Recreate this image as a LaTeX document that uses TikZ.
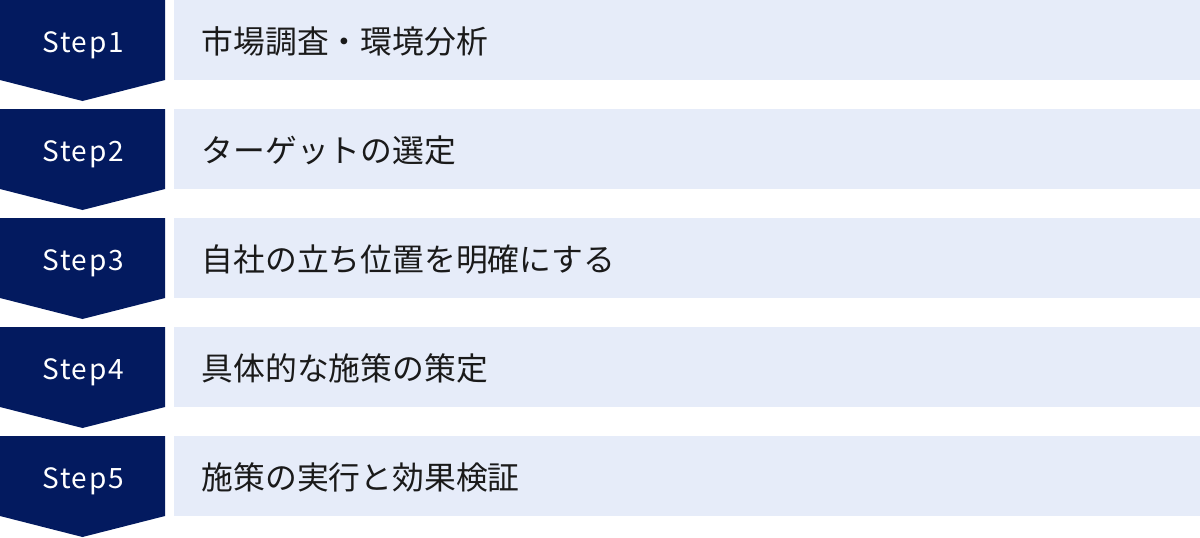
\documentclass[tikz,border=0pt]{standalone}
\usepackage{fontspec}
\setmainfont{Noto Sans CJK JP}
\newfontfamily\stepfont[LetterSpace=6]{Noto Sans CJK JP}
\definecolor{navy}{HTML}{031A5F}
\definecolor{lightbg}{HTML}{E6ECF9}
\definecolor{txt}{HTML}{1A1A1A}
\begin{document}
\begin{tikzpicture}[x=1pt,y=-1pt,
  chev/.style={fill=navy,draw=none},
  band/.style={fill=lightbg,draw=none},
  steplabel/.style={text=white,inner sep=0pt,anchor=base,font=\stepfont\fontsize{28pt}{28pt}\selectfont},
  desc/.style={text=txt,inner sep=0pt,anchor=west,font=\fontsize{31.8pt}{31.8pt}\selectfont}]
\useasboundingbox (0,0) rectangle (1200,538);
\foreach \i/\lab/\txt in {0/Step1/市場調査・環境分析,1/Step2/ターゲットの選定,2/Step3/自社の立ち位置を明確にする,3/Step4/具体的な施策の策定,4/Step5/施策の実行と効果検証}{
  \pgfmathsetmacro{\t}{\i*109}
  \fill[chev] (0,\t) -- (165,\t) -- (165,\t+80) -- (82.5,\t+101) -- (0,\t+80) -- cycle;
  \fill[band] (174,\t) rectangle (1200,\t+80);
  \node[steplabel] (s\i) at (83,\t+52) {\lab};
  \node[desc] (d\i) at (201.5,\t+41) {\txt};
}
\end{tikzpicture}
\end{document}
